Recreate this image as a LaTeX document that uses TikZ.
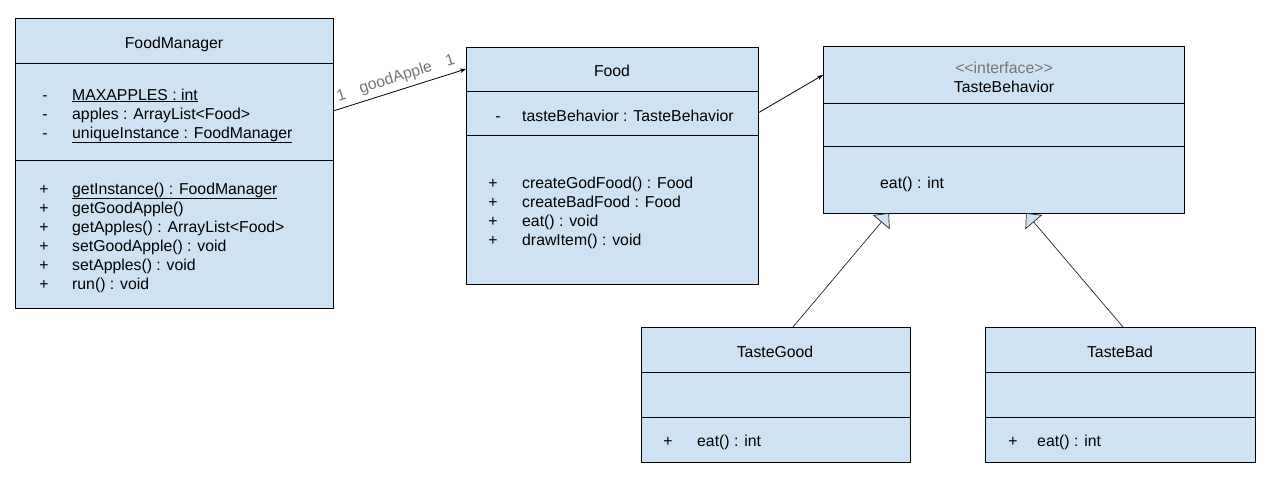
\documentclass[tikz,border=0pt]{standalone}
\usepackage{fontspec}
\setmainfont{Liberation Sans}
\usetikzlibrary{arrows.meta,calc}
\definecolor{boxblue}{HTML}{CFE2F3}
\definecolor{labelgray}{HTML}{757575}
\begin{document}
\begin{tikzpicture}[x=1pt,y=-1pt,font=\fontsize{15.8}{19}\selectfont,
  classbox/.style={draw=black, line width=1pt, fill=boxblue, anchor=north west, inner sep=0pt, outer sep=0pt},
  txt/.style={anchor=base west, inner sep=0pt},
  sym/.style={anchor=base, inner sep=0pt},
  ttl/.style={anchor=base, inner sep=0pt},
  divider/.style={draw=black, line width=1pt},
  assoc/.style={draw=black, line width=0.8pt, -{Stealth[length=6pt,width=4.5pt]}},
  gen/.style={draw=black!85, line width=0.7pt, -{Triangle[length=12pt,width=22pt,fill=boxblue]}},
  lbl/.style={text=labelgray, inner sep=0.5pt, sloped}
]
\useasboundingbox (0,0) rectangle (1276,482);

% ---------- FoodManager ----------
\node[classbox, minimum width=318pt, minimum height=290pt] (fm) at (15,18) {};
\draw[divider] (fm.west |- 0,63) -- (fm.east |- 0,63);
\draw[divider] (fm.west |- 0,160) -- (fm.east |- 0,160);
\node[ttl] (fmT) at (174,48) {FoodManager};
\node[sym] (fmA1s) at (45,100) {-};
\node[txt] (fmA1) at (72,100) {\underline{MAXAPPLES : int}};
\node[sym] (fmA2s) at (45,119) {-};
\node[txt] (fmA2) at (72,119) {apples : ArrayList<Food>};
\node[sym] (fmA3s) at (45,138) {-};
\node[txt] (fmA3) at (72,138) {\underline{uniqueInstance : FoodManager}};
\node[sym] (fmM1s) at (44,194) {+};
\node[txt] (fmM1) at (72,194) {\underline{getInstance() : FoodManager}};
\node[sym] (fmM2s) at (44,213) {+};
\node[txt] (fmM2) at (72,213) {getGoodApple()};
\node[sym] (fmM3s) at (44,232) {+};
\node[txt] (fmM3) at (72,232) {getApples() : ArrayList<Food>};
\node[sym] (fmM4s) at (44,251) {+};
\node[txt] (fmM4) at (72,251) {setGoodApple() : void};
\node[sym] (fmM5s) at (44,270) {+};
\node[txt] (fmM5) at (72,270) {setApples() : void};
\node[sym] (fmM6s) at (44,289) {+};
\node[txt] (fmM6) at (72,289) {run() : void};

% ---------- Food ----------
\node[classbox, minimum width=292pt, minimum height=237pt] (food) at (466,47) {};
\draw[divider] (food.west |- 0,91) -- (food.east |- 0,91);
\draw[divider] (food.west |- 0,135) -- (food.east |- 0,135);
\node[ttl] (foodT) at (612,76) {Food};
\node[sym] (foodA1s) at (498,121) {-};
\node[txt] (foodA1) at (522,121) {tasteBehavior : TasteBehavior};
\node[sym] (foodM1s) at (493,188) {+};
\node[txt] (foodM1) at (522,188) {createGodFood() : Food};
\node[sym] (foodM2s) at (493,207) {+};
\node[txt] (foodM2) at (522,207) {createBadFood : Food};
\node[sym] (foodM3s) at (493,226) {+};
\node[txt] (foodM3) at (522,226) {eat() : void};
\node[sym] (foodM4s) at (493,245) {+};
\node[txt] (foodM4) at (522,245) {drawItem() : void};

% ---------- TasteBehavior ----------
\node[classbox, minimum width=361pt, minimum height=167pt] (tb) at (823,46) {};
\draw[divider] (tb.west |- 0,103) -- (tb.east |- 0,103);
\draw[divider] (tb.west |- 0,146) -- (tb.east |- 0,146);
\node[ttl, text=labelgray] (tbS) at (1004,73) {<{}<interface>{}>};
\node[ttl] (tbT) at (1004,92) {TasteBehavior};
\node[txt] (tbM1) at (880,188) {eat() : int};

% ---------- TasteGood ----------
\node[classbox, minimum width=269pt, minimum height=135pt] (tg) at (641,327) {};
\draw[divider] (tg.west |- 0,372) -- (tg.east |- 0,372);
\draw[divider] (tg.west |- 0,417) -- (tg.east |- 0,417);
\node[ttl] (tgT) at (775,357) {TasteGood};
\node[sym] (tgM1s) at (668,446) {+};
\node[txt] (tgM1) at (697,446) {eat() : int};

% ---------- TasteBad ----------
\node[classbox, minimum width=270pt, minimum height=135pt] (tbad) at (985,327) {};
\draw[divider] (tbad.west |- 0,372) -- (tbad.east |- 0,372);
\draw[divider] (tbad.west |- 0,417) -- (tbad.east |- 0,417);
\node[ttl] (tbadT) at (1120,357) {TasteBad};
\node[sym] (tbadM1s) at (1013,446) {+};
\node[txt] (tbadM1) at (1037,446) {eat() : int};

% ---------- connectors ----------
\coordinate (fmOut) at (fm.east |- 0,111);
\coordinate (foodIn) at (food.west |- 0,69);
\draw[assoc] (fmOut) -- node[lbl, pos=0.09, above=6pt] (m1) {1}
                         node[lbl, pos=0.5, above=4pt] (role) {goodApple}
                         node[lbl, pos=0.91, above=7pt] (m2) {1} (foodIn);

\coordinate (foodOut) at (food.east |- 0,113);
\coordinate (tbIn) at (tb.west |- 0,75);
\draw[assoc] (foodOut) -- (tbIn);

\coordinate (tgUp) at (tg.north -| 793,0);
\coordinate (tbG) at (tb.south -| 889,0);
\draw[gen] (tgUp) -- (tbG);

\coordinate (tbadUp) at (tbad.north -| 1123,0);
\coordinate (tbB) at (tb.south -| 1026,0);
\draw[gen] (tbadUp) -- (tbB);
\end{tikzpicture}
\end{document}
